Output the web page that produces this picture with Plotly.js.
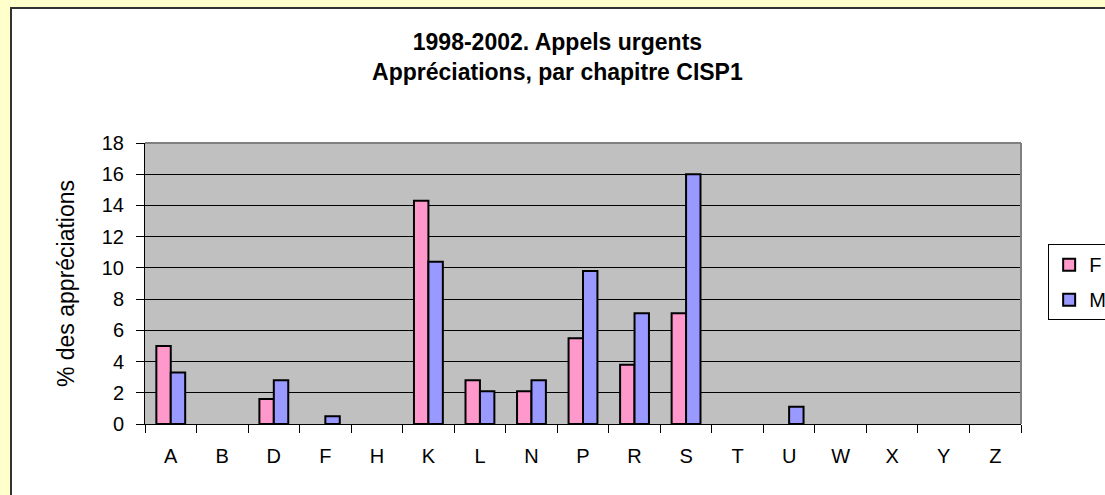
<!DOCTYPE html>
<html>
<head>
<meta charset="utf-8">
<script src="https://cdn.plot.ly/plotly-3.0.1.min.js"></script>
<style>
  html, body { margin: 0; padding: 0; background: #FFFFCC; overflow: hidden; width: 1105px; height: 495px; }
  #panel { position: absolute; left: 10px; top: 7px; width: 1120px; height: 510px; background: #ffffff;
           border-left: 2px solid #333333; border-top: 2px solid #333333; }
  #chart { position: absolute; left: 0; top: 0; }
</style>
</head>
<body>
<div id="panel"><div id="chart"></div></div>
<script>
const categories = ["A","B","D","F","H","K","L","N","P","R","S","T","U","W","X","Y","Z"];
const valuesF = [5.0, 0, 1.6, 0, 0, 14.3, 2.8, 2.1, 5.5, 3.8, 7.1, 0, 0, 0, 0, 0, 0];
const valuesM = [3.3, 0, 2.8, 0.5, 0, 10.4, 2.1, 2.8, 9.8, 7.1, 16.0, 0, 1.1, 0, 0, 0, 0];
const seriesNames = ["F", "M"];
const yTicks = [0, 2, 4, 6, 8, 10, 12, 14, 16, 18];

const font = "Liberation Sans, Arial, sans-serif";

const traces = [
  { type: "bar", x: categories, y: valuesF.map(v => v === 0 ? null : v), name: seriesNames[0],
    legendgroup: "f",
    marker: { color: "#FF99CC", line: { color: "#000000", width: 2 } } },
  { type: "bar", x: categories, y: valuesM.map(v => v === 0 ? null : v), name: seriesNames[1],
    legendgroup: "m",
    marker: { color: "#9999FF", line: { color: "#000000", width: 2 } } }
];

const layout = {
  width: 1120, height: 510,
  margin: { l: 133, r: 111, t: 134, b: 95 },
  paper_bgcolor: "#ffffff",
  plot_bgcolor: "#C0C0C0",
  bargap: 0.44, bargroupgap: 0,
  barmode: "group",
  showlegend: true,
  font: { family: font, size: 20, color: "#000000" },
  title: {
    text: "<b>1998-2002. Appels urgents<br>Appréciations, par chapitre CISP1</b>",
    font: { family: font, size: 23, color: "#000000" },
    xref: "container", x: 0.487, xanchor: "center",
    yref: "container", y: 0.92, yanchor: "top"
  },
  xaxis: {
    type: "category",
    categoryorder: "array", categoryarray: categories,
    showline: true, linecolor: "#000000", linewidth: 1,
    ticks: "outside", tickson: "boundaries", ticklen: 8, tickcolor: "#000000",
    ticklabelstandoff: 14,
    showgrid: false, zeroline: false,
    tickfont: { family: font, size: 20 },
    fixedrange: true
  },
  yaxis: {
    range: [0, 18], tickvals: yTicks, ticktext: yTicks.map(String),
    showline: true, linecolor: "#000000", linewidth: 1,
    ticks: "outside", ticklen: 8, tickcolor: "#000000",
    ticklabelstandoff: 8,
    showgrid: true, gridcolor: "#000000", gridwidth: 1,
    zeroline: false,
    tickfont: { family: font, size: 20 },
    title: { text: "% des appréciations", font: { family: font, size: 23 }, standoff: 20 },
    fixedrange: true
  },
  legend: {
    x: 1.031, xanchor: "left", y: 0.64, yanchor: "top",
    bgcolor: "#ffffff", bordercolor: "#000000", borderwidth: 1,
    font: { family: font, size: 20 },
    traceorder: "grouped", tracegroupgap: 6,
    itemwidth: 30
  },
  shapes: [
    { type: "line", xref: "paper", yref: "paper", x0: 0, x1: 1, y0: 1, y1: 1,
      line: { color: "#808080", width: 2 } },
    { type: "line", xref: "paper", yref: "paper", x0: 1, x1: 1, y0: 0, y1: 1,
      line: { color: "#808080", width: 2 } }
  ]
};

Plotly.newPlot("chart", traces, layout, { displayModeBar: false, staticPlot: true });
</script>
</body>
</html>
